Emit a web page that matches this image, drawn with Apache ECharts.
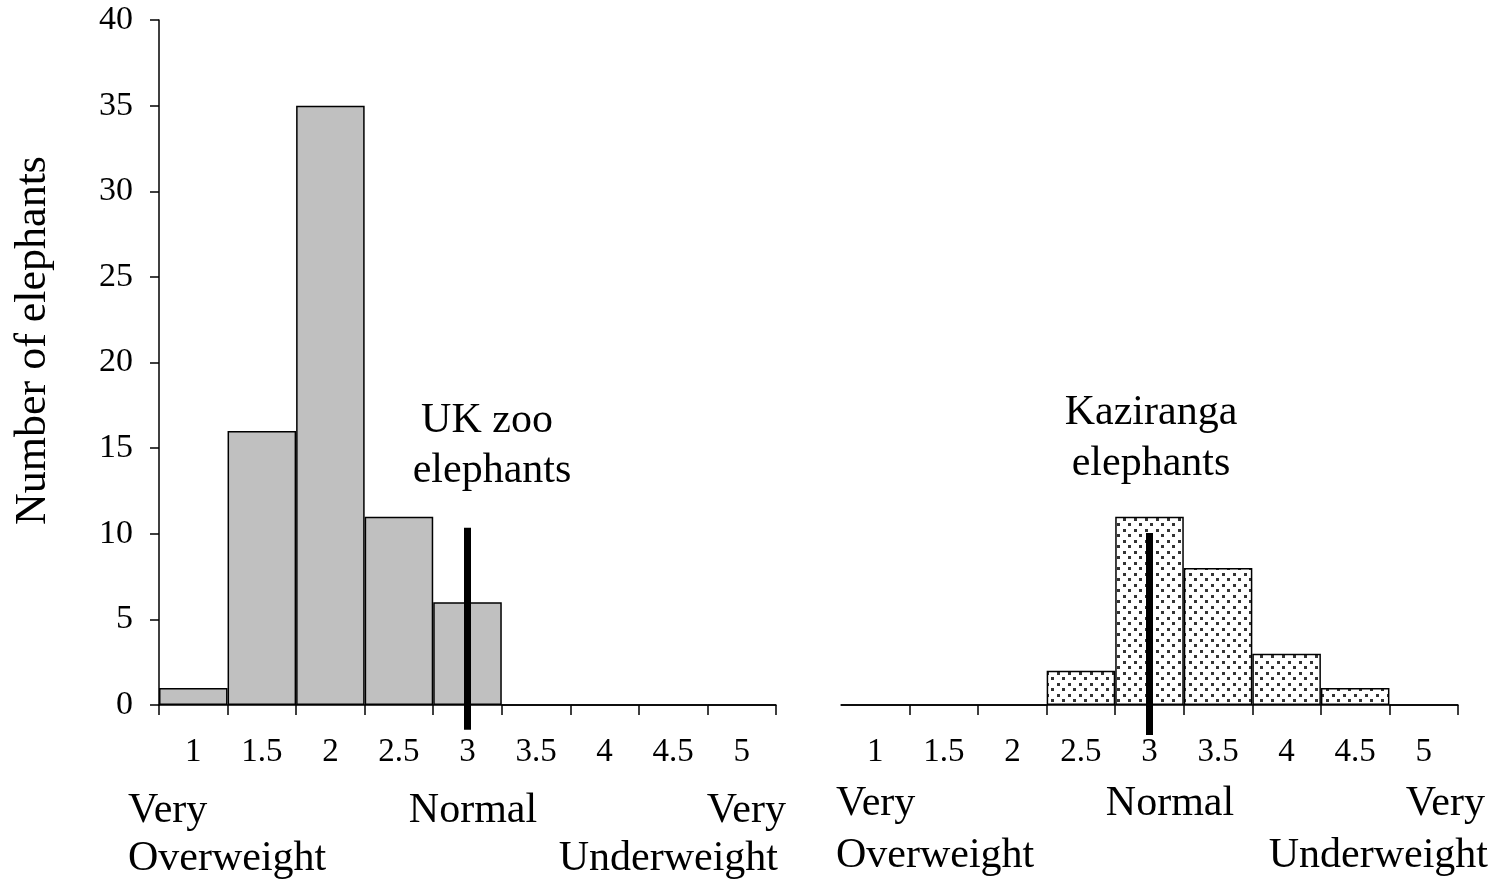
<!DOCTYPE html>
<html>
<head>
<meta charset="utf-8">
<script src="https://cdn.jsdelivr.net/npm/echarts@6/dist/echarts.min.js"></script>
<style>
  html, body { margin: 0; padding: 0; background: #fff; }
  #chart { width: 1496px; height: 885px; }
</style>
</head>
<body>
<div id="chart"></div>
<script>
// body condition score categories
const scores = ['1', '1.5', '2', '2.5', '3', '3.5', '4', '4.5', '5'];
const ukZoo = [1, 16, 35, 11, 6, 0, 0, 0, 0];
const kaziranga = [0, 0, 0, 2, 11, 8, 3, 1, 0];
const yTicks = [0, 5, 10, 15, 20, 25, 30, 35, 40];
// the "normal" marker: [category index, top, bottom]
const ukNormal = [[4, 10.35, -1.45]];
const kzNormal = [[4, 10.05, -1.75]];

const FONT = '"Liberation Serif", "Times New Roman", serif';

// dotted fill for the Kaziranga bars
function dotPattern() {
  const c = document.createElement('canvas');
  c.width = 11; c.height = 11;
  const ctx = c.getContext('2d');
  ctx.fillStyle = '#fff';
  ctx.fillRect(0, 0, 11, 11);
  ctx.fillStyle = '#333';
  ctx.fillRect(1, 1, 3, 3);
  ctx.fillRect(6, 6, 3, 3);
  return c;
}

function normalLine(params, api) {
  const top = api.coord([api.value(0), api.value(1)]);
  const bot = api.coord([api.value(0), api.value(2)]);
  return {
    type: 'rect',
    shape: { x: top[0] - 3.5, y: top[1], width: 7, height: bot[1] - top[1] },
    style: { fill: '#000' }
  };
}

function xAxisCfg(gridIndex, tickFilter) {
  return {
    type: 'category',
    gridIndex: gridIndex,
    data: scores,
    boundaryGap: true,
    axisLine: { lineStyle: { color: '#000', width: 1.5 } },
    axisTick: { show: true, length: 10, interval: tickFilter, lineStyle: { color: '#000', width: 1.5 } },
    axisLabel: { color: '#000', fontFamily: FONT, fontSize: 33, margin: 31, interval: 0 },
    splitLine: { show: false }
  };
}

const chart = echarts.init(document.getElementById('chart'));

const txt = (text, x, y, align) => ({
  type: 'text',
  x: x, y: y,
  style: { text: text, font: '42px ' + FONT, fill: '#000', textAlign: align || 'left', textVerticalAlign: 'middle' }
});

chart.setOption({
  backgroundColor: '#fff',
  animation: false,
  grid: [
    { left: 159, top: 20, width: 617, height: 685 },
    { left: 841, top: 20, width: 617, height: 685 }
  ],
  xAxis: [
    xAxisCfg(0, 0),
    xAxisCfg(1, function (i) { return i !== 0; })
  ],
  yAxis: [
    {
      type: 'value',
      gridIndex: 0,
      min: 0, max: 40, interval: 5,
      name: 'Number of elephants',
      nameLocation: 'middle',
      nameGap: 104,
      nameTextStyle: { color: '#000', fontFamily: FONT, fontSize: 44, padding: [0, 0, 0, 44] },
      axisLine: { show: true, lineStyle: { color: '#000', width: 1.5 } },
      axisTick: { show: true, length: 9, lineStyle: { color: '#000', width: 1.5 } },
      axisLabel: {
        color: '#000', fontFamily: FONT, fontSize: 34, margin: 26,
        formatter: function (v) { return yTicks.indexOf(v) >= 0 ? String(v) : ''; }
      },
      splitLine: { show: false }
    },
    {
      type: 'value',
      gridIndex: 1,
      min: 0, max: 40, interval: 5,
      axisLine: { show: false },
      axisTick: { show: false },
      axisLabel: { show: false },
      splitLine: { show: false }
    }
  ],
  series: [
    {
      name: 'UK zoo elephants',
      type: 'bar',
      xAxisIndex: 0, yAxisIndex: 0,
      data: ukZoo,
      barCategoryGap: 0,
      itemStyle: { color: '#c0c0c0', borderColor: '#000', borderWidth: 1.5 }
    },
    {
      name: 'Kaziranga elephants',
      type: 'bar',
      xAxisIndex: 1, yAxisIndex: 1,
      data: kaziranga,
      barCategoryGap: 0,
      itemStyle: {
        color: { image: dotPattern(), repeat: 'repeat' },
        borderColor: '#000', borderWidth: 1.5
      }
    },
    {
      type: 'custom',
      xAxisIndex: 0, yAxisIndex: 0,
      renderItem: normalLine,
      data: ukNormal,
      z: 10
    },
    {
      type: 'custom',
      xAxisIndex: 1, yAxisIndex: 1,
      renderItem: normalLine,
      data: kzNormal,
      z: 10
    }
  ],
  graphic: [
    txt('UK zoo', 487, 421, 'center'),
    txt('elephants', 492, 471, 'center'),
    txt('Kaziranga', 1151, 413, 'center'),
    txt('elephants', 1151, 464, 'center'),
    txt('Very', 128, 811),
    txt('Overweight', 128, 859),
    txt('Normal', 473, 811, 'center'),
    txt('Very', 786, 811, 'right'),
    txt('Underweight', 778, 859, 'right'),
    txt('Very', 836, 804),
    txt('Overweight', 836, 856),
    txt('Normal', 1170, 804, 'center'),
    txt('Very', 1485, 804, 'right'),
    txt('Underweight', 1488, 856, 'right')
  ]
});
</script>
</body>
</html>
